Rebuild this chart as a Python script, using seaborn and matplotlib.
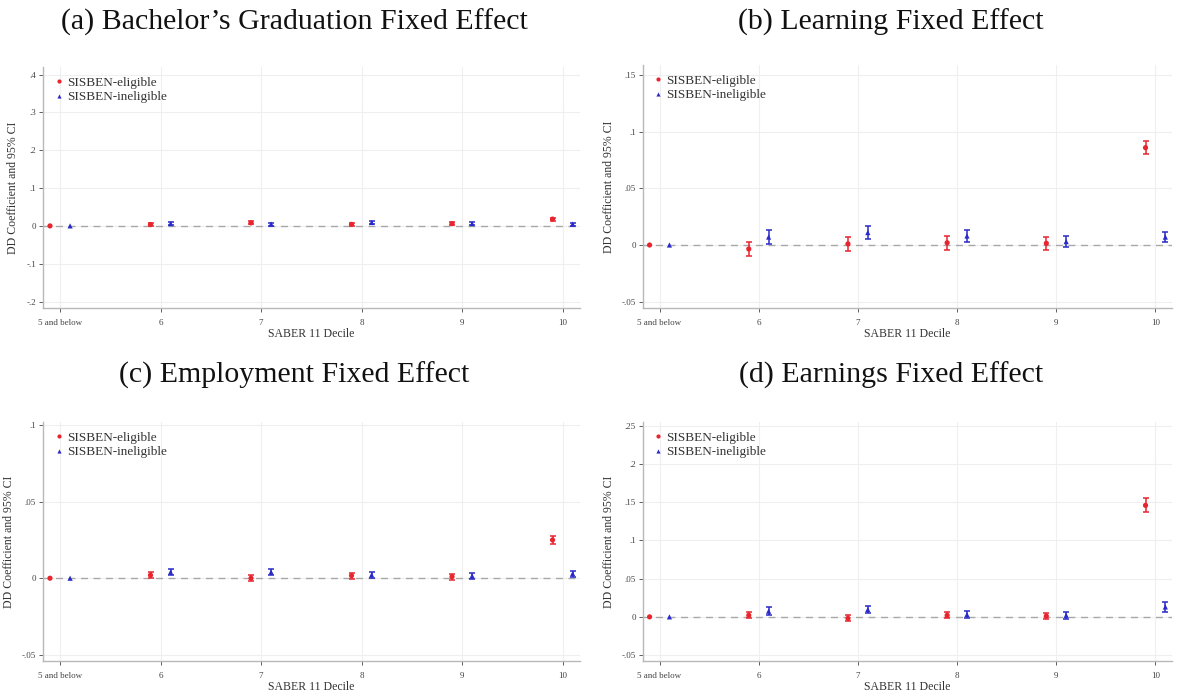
import numpy as np
import pandas as pd
import matplotlib
matplotlib.use("Agg")
import matplotlib.pyplot as plt
from matplotlib.ticker import FuncFormatter
import seaborn as sns

# deciles (5 = "5 and below", the reference group)
deciles = [5, 6, 7, 8, 9, 10]
xtick_labels = ["5 and below", "6", "7", "8", "9", "10"]

# (a) Bachelor's graduation
grad_elig = [0.0, 0.0035, 0.008, 0.004, 0.006, 0.018]
grad_elig_ci = [0.0, 0.004, 0.004, 0.004, 0.004, 0.004]
grad_inel = [0.0, 0.006, 0.005, 0.009, 0.006, 0.005]
grad_inel_ci = [0.0, 0.004, 0.004, 0.004, 0.004, 0.004]

# (b) Learning
learn_elig = [0.0, -0.0035, 0.001, 0.002, 0.0015, 0.086]
learn_elig_ci = [0.0, 0.0065, 0.006, 0.006, 0.0055, 0.006]
learn_inel = [0.0, 0.007, 0.011, 0.008, 0.003, 0.007]
learn_inel_ci = [0.0, 0.006, 0.0058, 0.005, 0.005, 0.0045]

# (c) Employment
emp_elig = [0.0, 0.002, 0.0, 0.0017, 0.001, 0.025]
emp_elig_ci = [0.0, 0.002, 0.002, 0.002, 0.002, 0.0027]
emp_inel = [0.0, 0.004, 0.004, 0.0022, 0.0015, 0.003]
emp_inel_ci = [0.0, 0.002, 0.002, 0.002, 0.002, 0.002]

# (d) Earnings
earn_elig = [0.0, 0.002, -0.002, 0.002, 0.001, 0.146]
earn_elig_ci = [0.0, 0.004, 0.004, 0.004, 0.004, 0.009]
earn_inel = [0.0, 0.0074, 0.0096, 0.003, 0.002, 0.013]
earn_inel_ci = [0.0, 0.005, 0.005, 0.005, 0.005, 0.0065]

titles = ["(a) Bachelor\u2019s Graduation Fixed Effect", "(b) Learning Fixed Effect",
          "(c) Employment Fixed Effect", "(d) Earnings Fixed Effect"]
yticks = [np.arange(-0.2, 0.41, 0.1), np.arange(-0.05, 0.151, 0.05),
          np.arange(-0.05, 0.101, 0.05), np.arange(-0.05, 0.251, 0.05)]
ylims = [(-0.217, 0.42), (-0.0556, 0.159), (-0.054, 0.102), (-0.0576, 0.255)]

panels = [
    (grad_elig, grad_elig_ci, grad_inel, grad_inel_ci),
    (learn_elig, learn_elig_ci, learn_inel, learn_inel_ci),
    (emp_elig, emp_elig_ci, emp_inel, emp_inel_ci),
    (earn_elig, earn_elig_ci, earn_inel, earn_inel_ci),
]

RED = "#e8252f"
BLUE = "#2a2ac8"
SERIF = ["Liberation Serif", "DejaVu Serif"]

sns.set_theme(style="white")
plt.rcParams["font.family"] = SERIF


def stata_fmt(v, pos):
    if abs(v) < 1e-9:
        return "0"
    s = f"{v:.2f}".rstrip("0").rstrip(".")
    return s.replace("0.", ".")


fig = plt.figure(figsize=(11.77, 6.92), dpi=100)

# axes boxes in figure fractions: left, bottom, width, height
boxes = [
    (0.0365, 0.555, 0.456, 0.348),
    (0.546, 0.555, 0.450, 0.351),
    (0.0365, 0.045, 0.456, 0.345),
    (0.546, 0.045, 0.450, 0.345),
]
title_pos = [(0.25, 0.968), (0.757, 0.968), (0.25, 0.458), (0.757, 0.458)]

for i, (elig, elig_ci, inel, inel_ci) in enumerate(panels):
    ax = fig.add_axes(boxes[i])
    df = pd.DataFrame({
        "decile": deciles * 2,
        "coef": elig + inel,
        "ci": elig_ci + inel_ci,
        "group": ["SISBEN-eligible"] * 6 + ["SISBEN-ineligible"] * 6,
    })
    df["xpos"] = df["decile"] + np.where(df["group"] == "SISBEN-eligible", -0.1, 0.1)

    # grid
    for t in deciles:
        ax.axvline(t, color="#efefef", lw=0.8, zorder=0)
    for t in yticks[i]:
        ax.axhline(t, color="#efefef", lw=0.8, zorder=0)
    ax.axhline(0, color="#a8a8a8", lw=1.0, ls=(0, (5, 4)), zorder=1)

    for grp, col in [("SISBEN-eligible", RED), ("SISBEN-ineligible", BLUE)]:
        sub = df[(df["group"] == grp) & (df["ci"] > 0)]
        ax.errorbar(sub["xpos"], sub["coef"], yerr=sub["ci"], fmt="none",
                    ecolor=col, elinewidth=1.1, capsize=2.5, capthick=1.1, zorder=2)

    sns.scatterplot(data=df, x="xpos", y="coef", hue="group", style="group",
                    palette={"SISBEN-eligible": RED, "SISBEN-ineligible": BLUE},
                    markers={"SISBEN-eligible": "o", "SISBEN-ineligible": "^"},
                    s=14, linewidth=0, ax=ax, zorder=3)

    ax.set_xlim(4.83, 10.17)
    ax.set_ylim(*ylims[i])
    ax.set_xticks(deciles)
    ax.set_xticklabels(xtick_labels)
    ax.set_yticks(yticks[i])
    ax.yaxis.set_major_formatter(FuncFormatter(stata_fmt))
    ax.tick_params(axis="both", labelsize=6.5, colors="#444444", length=3,
                   width=0.6, direction="out", pad=2, left=True, bottom=True)
    ax.tick_params(axis="x", pad=5)
    for sp in ["top", "right"]:
        ax.spines[sp].set_visible(False)
    for sp in ["left", "bottom"]:
        ax.spines[sp].set_color("#b8b8b8")
        ax.spines[sp].set_linewidth(1.0)
    ax.set_xlabel("SABER 11 Decile", fontsize=8.5, color="#333333", labelpad=1)
    ax.set_ylabel("DD Coefficient and 95% CI", fontsize=8.5, color="#333333", labelpad=5)

    leg = ax.legend(loc="upper left", frameon=False, fontsize=9.5, handletextpad=0.1,
                    labelspacing=0.2, borderaxespad=0.3, handlelength=1.0,
                    markerscale=0.8)
    for txt in leg.get_texts():
        txt.set_color("#333333")

    fig.text(title_pos[i][0], title_pos[i][1], titles[i], ha="center", va="center",
             fontsize=21.5, color="#111111")

fig.savefig("out.png", dpi=100)
